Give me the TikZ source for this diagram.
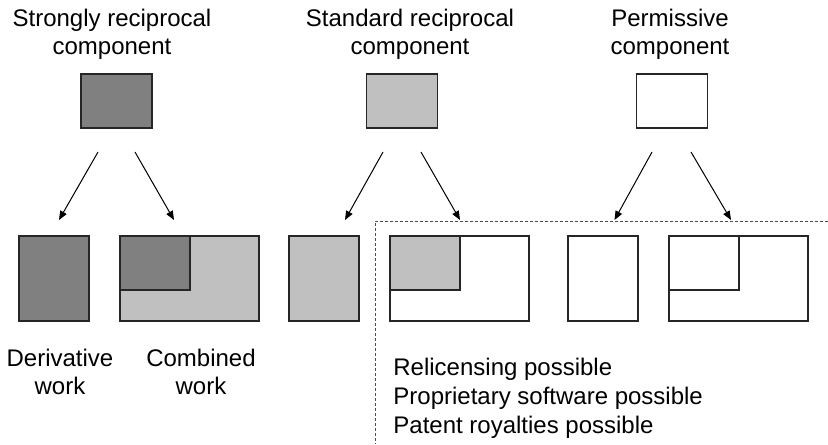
\documentclass[tikz,border=0pt]{standalone}
\usepackage{fontspec}
\setmainfont{Liberation Sans}
\usetikzlibrary{arrows.meta, calc, positioning}
\definecolor{darkgr}{HTML}{808080}
\definecolor{lightgr}{HTML}{C0C0C0}
\tikzset{comp/.style={draw=black!85, line width=0.6pt, inner sep=0pt, outer sep=0pt,
		minimum width=35.5pt, minimum height=27pt, fill=#1},
	comp/.default=white,
	work/.style={draw=black!85, line width=0.6pt, inner sep=0pt, outer sep=0pt,
		minimum width=#1, minimum height=42.5pt},
	part/.style={draw=black!85, line width=0.6pt, inner sep=0pt, outer sep=0pt, anchor=north west,
		minimum width=35pt, minimum height=27pt, fill=#1},
	lbl/.style={align=center, inner sep=0pt, font=\fontsize{12}{13.8}\selectfont},
	arr/.style={-{Triangle[length=4.5pt,width=3.6pt]}, line width=0.5pt},
	dashline/.style={draw=black!70, line width=0.5pt, dash pattern=on 1.5pt off 1pt}}

\begin{document}
\begin{tikzpicture}[x=0.5pt, y=-0.5pt]
	\useasboundingbox (0,0) rectangle (828,444);

	% licence of the component
	\node[lbl] (srtitle) at (112,34) {Strongly reciprocal\\component};
	\node[lbl] (sttitle) at (410,34) {Standard reciprocal\\component};
	\node[lbl] (pmtitle) at (670,34) {Permissive\\component};
	\node[comp=darkgr] (srcomp) at (116.5,101) {};
	\node[comp=lightgr] (stcomp) at (402,101) {};
	\node[comp] (pmcomp) at (672,101) {};

	% resulting works
	\node[work=35pt, fill=darkgr] (srderiv) at (54,278.5) {};
	\node[work=69.5pt, fill=lightgr, right=15.5pt of srderiv] (srcomb) {};
	\node[work=35pt, fill=lightgr, right=15pt of srcomb] (stderiv) {};
	\node[work=69.5pt, fill=white, right=15.5pt of stderiv] (stcomb) {};
	\node[work=35pt, fill=white, right=19.5pt of stcomb] (pmderiv) {};
	\node[work=69.5pt, fill=white, right=15.5pt of pmderiv] (pmcomb) {};
	\node[part=darkgr] (srpart) at (srcomb.north west) {};
	\node[part=lightgr] (stpart) at (stcomb.north west) {};
	\node[part=white] (pmpart) at (pmcomb.north west) {};

	\node[lbl] (derivlbl) at (60,372) {Derivative\\work};
	\node[lbl] (comblbl) at (201,372) {Combined\\work};

	% what is allowed on the right
	\coordinate (dend) at (828,221);
	\coordinate (dcorner) at (375,221);
	\coordinate (dfoot) at (375,444);
	\draw[dashline] (dend) -- (dcorner) -- (dfoot);
	\node[lbl, align=left, anchor=west, font=\fontsize{12}{14.5}\selectfont] (gains) at (393,398)
		{Relicensing possible\\Proprietary software possible\\Patent royalties possible};

	\foreach \a/\b/\p/\q in {srcomp/srderiv/-18.5/5, srcomp/srcomb/18.5/-15.5,
			stcomp/stderiv/-19/21, stcomp/stcomb/19/0.5,
			pmcomp/pmderiv/-20/11.5, pmcomp/pmcomb/19/-7.5}
		\draw[arr] ($(\a.south)+(\p,24)$) -- ($(\b.north)+(\q,-16)$);
\end{tikzpicture}
\end{document}
